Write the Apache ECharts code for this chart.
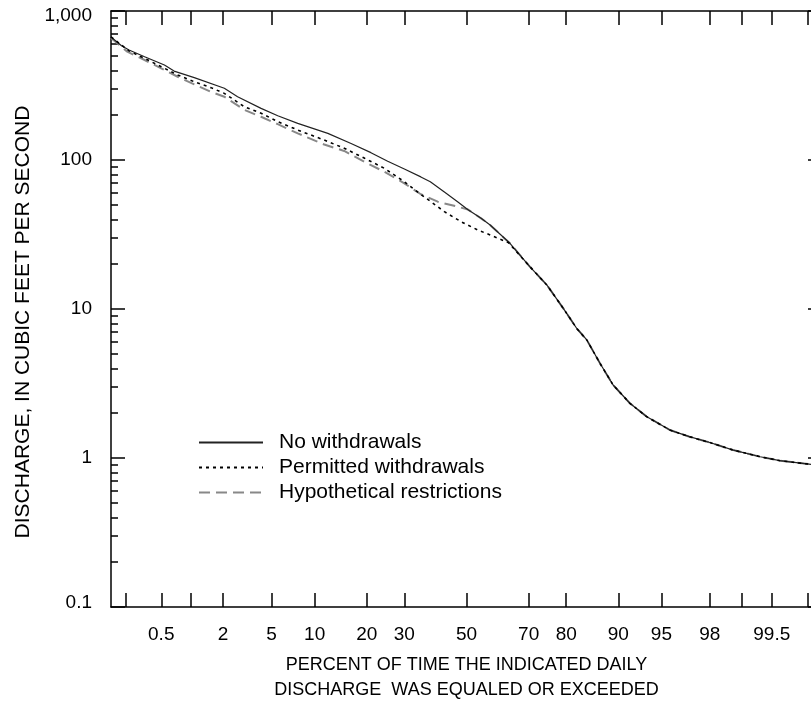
<!DOCTYPE html>
<html><head><meta charset="utf-8">
<script src="https://cdn.jsdelivr.net/npm/echarts@6/dist/echarts.min.js"></script>
<style>html,body{margin:0;padding:0;background:#fff}#c{width:811px;height:702px}</style>
</head><body><div id="c"></div>
<script>
// ---- data (percent of time exceeded, discharge in ft3/s) ----
const seriesNames = ['No withdrawals', 'Permitted withdrawals', 'Hypothetical restrictions'];

const noWithdrawalsPct = [0.135,0.18,0.22,0.33,0.54,0.68,1.08,2.05,2.67,4.15,5.56,7.72,12.1,16.5,21.0,25.3,30.0,35.0,38.0,42.6,47.0,50.4,54.9,57.9,64.3,70.4,75.1,79.3,82.4,84.5,87.0,89.2,91.6,93.6,95.7,97.0,98.0,98.78,99.34,99.59,99.86];
const noWithdrawalsQ   = [670,585,547,493,434,395,357,303,266,222,198,176,151,129,112,98,87,77,71.5,61,52.5,46.5,40.6,36.6,27.6,19.2,14.5,10.1,7.4,6.2,4.32,3.09,2.33,1.89,1.54,1.39,1.27,1.13,1.02,0.96,0.89];

const permittedPct = [0.135,0.22,0.33,0.50,0.74,1.08,1.55,2.05,3.04,4.15,5.56,7.72,11.5,15.1,19.4,24.4,30.0,34.0,38.2,42.6,48.2,53.8,57.9,63.8,70.4,75.1,79.3,82.4,84.5,87.0,89.2,91.6,93.6,95.7,97.0,98.0,98.78,99.34,99.59,99.86];
const permittedQ   = [670,540,481,423,372,335,306,280,228,206,181,159,136,120,103,88,71.5,61,52.5,45,38.5,33.9,31.4,27.9,19.2,14.5,10.1,7.4,6.2,4.32,3.09,2.33,1.89,1.54,1.39,1.27,1.13,1.02,0.96,0.89];

const hypotheticalPct = [0.135,0.21,0.33,0.50,0.74,1.08,1.55,2.05,3.04,4.15,5.56,7.72,11.5,15.1,19.4,24.4,30.0,35.0,40.4,47.0,50.5,54.9,57.9,64.3,70.4,75.1,79.3,82.4,84.5,87.0,89.2,91.6,93.6,95.7,97.0,98.0,98.78,99.34,99.59,99.86];
const hypotheticalQ   = [660,533,469,412,362,322,287,266,217,195,174,151,127,115,97.4,83.4,69.7,58.9,52.5,48.6,46.5,40.6,36.6,27.6,19.2,14.5,10.1,7.4,6.2,4.32,3.09,2.33,1.89,1.54,1.39,1.27,1.13,1.02,0.96,0.89];

const xTickPct  = [0.2,0.5,1,2,5,10,20,30,50,70,80,90,95,98,99,99.5,99.8];
const xLabelPct = [0.5,2,5,10,20,30,50,70,80,90,95,98,99.5];
const yMinorTicks = [0.2,0.3,0.4,0.5,0.6,0.7,0.8,0.9,2,3,4,5,6,7,8,9,20,30,40,50,60,70,80,90,200,300,400,500,600,700,800,900];

const xTitle = 'PERCENT OF TIME THE INDICATED DAILY\nDISCHARGE  WAS EQUALED OR EXCEEDED';
const yTitle = 'DISCHARGE, IN CUBIC FEET PER SECOND';

// ---- normal probability scale (inverse normal CDF) ----
function probit(p){
  const a=[-3.969683028665376e+01,2.209460984245205e+02,-2.759285104469687e+02,1.383577518672690e+02,-3.066479806614716e+01,2.506628277459239e+00];
  const b=[-5.447609879822406e+01,1.615858368580409e+02,-1.556989798598866e+02,6.680131188771972e+01,-1.328068155288572e+01];
  const c=[-7.784894002430293e-03,-3.223964580411365e-01,-2.400758277161838e+00,-2.549732539343734e+00,4.374664141464968e+00,2.938163982698783e+00];
  const d=[7.784695709041462e-03,3.224671290700398e-01,2.445134137142996e+00,3.754408661907416e+00];
  const pl=0.02425, ph=1-pl; let q,r;
  if(p<pl){q=Math.sqrt(-2*Math.log(p));return (((((c[0]*q+c[1])*q+c[2])*q+c[3])*q+c[4])*q+c[5])/((((d[0]*q+d[1])*q+d[2])*q+d[3])*q+1);}
  if(p<=ph){q=p-0.5;r=q*q;return (((((a[0]*r+a[1])*r+a[2])*r+a[3])*r+a[4])*r+a[5])*q/(((((b[0]*r+b[1])*r+b[2])*r+b[3])*r+b[4])*r+1);}
  q=Math.sqrt(-2*Math.log(1-p));return -(((((c[0]*q+c[1])*q+c[2])*q+c[3])*q+c[4])*q+c[5])/((((d[0]*q+d[1])*q+d[2])*q+d[3])*q+1);
}
const z = pct => probit(pct/100);
const pairs = (ps, qs) => ps.map((p,i)=>[z(p), qs[i]]);

const xTickZ = xTickPct.map(z);
const xLabelZ = xLabelPct.map(z);
const labelMap = {};
xLabelPct.forEach(p => { labelMap[z(p).toFixed(4)] = String(p); });
const yMinorLog = yMinorTicks.map(v => Math.log10(v));

const FONT = '"Liberation Sans", Arial, Helvetica, sans-serif';
const BLACK = '#000';
const axisLineStyle = {color:BLACK, width:1.5};

const xCommon = (pos, showLabels) => ({
  type:'value', min:-3, max:3, position:pos, gridIndex:0,
  axisLine:{show:true, onZero:false, lineStyle:axisLineStyle},
  axisTick:{show:true, inside:true, length:14, customValues:xTickZ, lineStyle:{color:BLACK, width:1.5}},
  axisLabel: showLabels ? {show:true, customValues:xLabelZ, formatter:v => labelMap[v.toFixed(4)] || '', margin:18, fontSize:19, color:BLACK, fontFamily:FONT}
                        : {show:false},
  splitLine:{show:false}
});

const yLog = (pos, showLabels) => ({
  type:'log', logBase:10, min:0.1, max:1000, position:pos, gridIndex:0,
  axisLine:{show:true, onZero:false, lineStyle:axisLineStyle},
  axisTick:{show:true, inside:true, length:14, lineStyle:{color:BLACK, width:1.5}},
  axisLabel: showLabels ? {
      show:true, margin:19, fontSize:19, color:BLACK, fontFamily:FONT,
      formatter: v => {
        const r = Math.round(v*1000)/1000;
        if (r >= 1000) return '{top|1,000}';
        if (r <= 0.1) return '{bot|0.1}';
        return String(r);
      },
      rich:{
        top:{fontSize:19, color:BLACK, fontFamily:FONT, padding:[9,0,0,0]},
        bot:{fontSize:19, color:BLACK, fontFamily:FONT, padding:[0,0,9,0]}
      }
    } : {show:false},
  splitLine:{show:false}, minorTick:{show:false}, minorSplitLine:{show:false}
});

const yMinor = (pos) => ({
  type:'value', min:-1, max:3, position:pos, gridIndex:0,
  axisLine:{show:false, onZero:false},
  axisTick:{show:true, inside:true, length:7, customValues:yMinorLog, lineStyle:{color:BLACK, width:1.5}},
  axisLabel:{show:false}, splitLine:{show:false}
});

const chart = echarts.init(document.getElementById('c'), null, {renderer:'canvas'});
chart.setOption({
  animation:false,
  backgroundColor:'#fff',
  textStyle:{fontFamily:FONT, color:BLACK},
  grid:{left:111, top:11, width:711, height:596, containLabel:false, outerBoundsMode:'none', show:false},
  legend:{
    show:true, orient:'vertical', left:198, top:432, padding:0, itemWidth:64, itemHeight:14, itemGap:4,
    selectedMode:false, data:seriesNames,
    itemStyle:{color:'rgba(0,0,0,0)', borderColor:'rgba(0,0,0,0)', borderWidth:0, opacity:0},
    textStyle:{fontSize:21, color:BLACK, fontFamily:FONT, lineHeight:21, padding:[0,0,0,11]}
  },
  xAxis:[
    Object.assign(xCommon('bottom', true), {
      name:xTitle, nameLocation:'middle', nameGap:46,
      nameTextStyle:{fontSize:18, lineHeight:25, color:BLACK, fontFamily:FONT}
    }),
    xCommon('top', false)
  ],
  yAxis:[
    Object.assign(yLog('left', true), {
      name:yTitle, nameLocation:'middle', nameGap:77,
      nameTextStyle:{fontSize:21, color:BLACK, fontFamily:FONT, padding:[0,26,0,0]}
    }),
    yMinor('left'),
    yLog('right', false),
    yMinor('right')
  ],
  series:[
    {name:seriesNames[0], type:'line', xAxisIndex:0, yAxisIndex:0, data:pairs(noWithdrawalsPct, noWithdrawalsQ),
     symbol:'none', smooth:false, lineStyle:{color:'#222', width:1.2, type:'solid'}, itemStyle:{color:'#222'}, z:3},
    {name:seriesNames[1], type:'line', xAxisIndex:0, yAxisIndex:0, data:pairs(permittedPct, permittedQ),
     symbol:'none', smooth:false, lineStyle:{color:'#000', width:1.6, type:[3,4]}, itemStyle:{color:'#000'}, z:4},
    {name:seriesNames[2], type:'line', xAxisIndex:0, yAxisIndex:0, data:pairs(hypotheticalPct, hypotheticalQ),
     symbol:'none', smooth:false, lineStyle:{color:'#888', width:2, type:[11,6]}, itemStyle:{color:'#888'}, z:2}
  ]
});
</script>
</body></html>
